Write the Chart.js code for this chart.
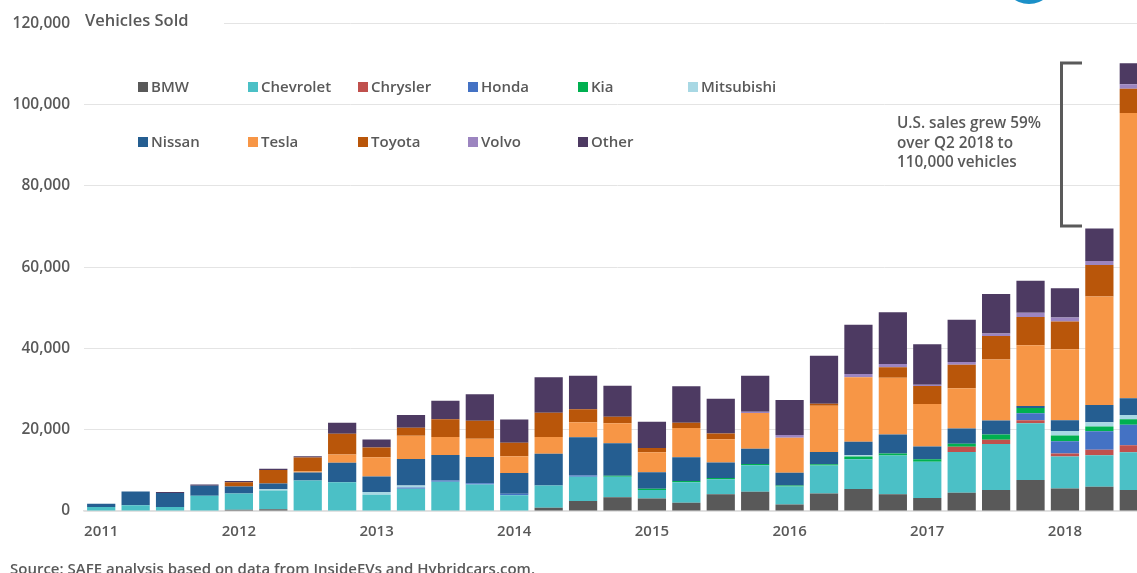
<!DOCTYPE html>
<html>
<head>
<meta charset="utf-8">
<script src="https://cdn.jsdelivr.net/npm/chart.js@4/dist/chart.umd.min.js"></script>
<style>
  html, body { margin: 0; padding: 0; background: #fff; overflow: hidden; width: 1137px; height: 573px; }
  #wrap { position: relative; width: 1160px; height: 580px; }
  #legend { position: absolute; left: 0; top: 0; font-family: "Open Sans", sans-serif; font-weight: 600; font-size: 15px; color: #595959; }
  .item { position: absolute; white-space: nowrap; line-height: 18px; transform: translateY(-9px); }
  .item span.box { display: inline-block; width: 10px; height: 10px; margin-right: 3px; vertical-align: 0px; }
</style>
</head>
<body>
<div id="wrap">
  <canvas id="evChart" width="1160" height="580"></canvas>
  <div id="legend"></div>
</div>
<script>
// quarterly U.S. plug-in sales, Q1 2011 .. Q3 2018
let quarters = [
  "Q1 2011", "Q2 2011", "Q3 2011", "Q4 2011",
  "Q1 2012", "Q2 2012", "Q3 2012", "Q4 2012",
  "Q1 2013", "Q2 2013", "Q3 2013", "Q4 2013",
  "Q1 2014", "Q2 2014", "Q3 2014", "Q4 2014",
  "Q1 2015", "Q2 2015", "Q3 2015", "Q4 2015",
  "Q1 2016", "Q2 2016", "Q3 2016", "Q4 2016",
  "Q1 2017", "Q2 2017", "Q3 2017", "Q4 2017",
  "Q1 2018", "Q2 2018", "Q3 2018"
];
let yTicks = [0, 20000, 40000, 60000, 80000, 100000, 120000];

let bmw        = [0,0,0,0, 300,400,0,0, 0,0,0,0, 0,800,2450,3400, 3100,2000,4100,4750, 1600,4300,5400,4100, 3200,4500,5150,7600, 5550,5950,5150];
let chevrolet  = [1000,1400,1000,3750, 4000,4650,7500,7100, 4000,5500,7200,6500, 3850,5500,6000,5000, 2050,5100,3700,6500, 4400,6900,7350,9550, 8900,10000,11350,14000, 7850,7750,9300];
let chrysler   = [0,0,0,0, 0,0,0,0, 0,0,0,0, 0,0,0,0, 0,0,0,0, 0,0,0,0, 0,1300,1050,750, 750,1400,1700];
let honda      = [0,0,0,0, 0,0,0,0, 0,300,300,300, 400,0,300,0, 0,0,0,0, 0,0,0,0, 0,0,0,1700, 3000,4500,5050];
let kia        = [0,0,0,0, 0,0,0,0, 0,0,0,0, 0,0,0,300, 300,300,300,300, 300,300,650,500, 650,750,1300,1300, 1400,1200,1400];
let mitsubishi = [0,0,0,0, 0,300,0,0, 650,500,0,0, 0,0,0,0, 0,0,0,0, 0,0,300,0, 0,0,0,0, 1150,1050,1050];
let nissan     = [800,3400,3400,2450, 1700,1400,2000,4800, 3850,6500,6300,6500, 5100,7800,9400,8000, 4100,5800,3850,3750, 3100,3000,3350,4650, 3100,3750,3400,500, 2600,4250,4100];
let tesla      = [0,0,0,0, 0,0,300,2000, 4700,5700,4400,4500, 4100,4100,3700,4900, 4900,7200,5700,8800, 8650,11400,15850,14000, 10500,9900,15000,14950, 17500,26700,70200];
let toyota     = [0,0,0,0, 1100,3350,3350,5100, 2400,2000,4400,4400, 3350,6000,3200,1600, 1050,1300,1400,0, 0,500,0,2600, 4400,5800,5800,6950, 6800,7700,5950];
let volvo      = [0,0,0,0, 0,0,0,0, 0,0,0,0, 0,0,0,0, 0,0,0,300, 650,0,800,800, 300,650,650,1000, 1000,1000,1100];
let other      = [0,0,300,300, 300,300,300,2700, 2000,3100,4500,6500, 5700,8700,8200,7600, 6450,9000,8600,8900, 8600,11800,12100,12700, 10000,10400,9700,7900, 7200,8000,5150];

let brands = ["BMW", "Chevrolet", "Chrysler", "Honda", "Kia", "Mitsubishi", "Nissan", "Tesla", "Toyota", "Volvo", "Other"];
let series = [bmw, chevrolet, chrysler, honda, kia, mitsubishi, nissan, tesla, toyota, volvo, other];
let colors = ["#595959", "#4bc0c6", "#c0504d", "#4472c4", "#00b050", "#a8d8e4", "#255e91", "#f79646", "#b9560a", "#9c85c0", "#4d3a62"];

let textGray = "#595959";
let fontFam = "'Open Sans', sans-serif";

// legend, two rows in fixed columns
let legendBox = document.getElementById("legend");
brands.forEach(function (name, i) {
  let row = i < 6 ? 0 : 1;
  let col = i < 6 ? i : i - 6;
  let el = document.createElement("div");
  el.className = "item";
  el.style.left = (138 + col * 110) + "px";
  el.style.top = (row === 0 ? 86 : 141) + "px";
  el.innerHTML = '<span class="box" style="background:' + colors[i] + '"></span>' + name;
  legendBox.appendChild(el);
});

let overlay = {
  id: "overlay",
  afterDraw(chart) {
    let c = chart.ctx;
    c.save();
    // title over the top gridline
    c.fillStyle = "#fff";
    c.fillRect(78, 10, 146, 22);
    c.fillStyle = textGray;
    c.font = "600 16.5px " + fontFam;
    c.textBaseline = "middle";
    c.textAlign = "left";
    c.fillText("Vehicles Sold", 85, 21);

    // annotation
    c.font = "600 15.3px " + fontFam;
    c.fillText("U.S. sales grew 59%", 897, 124);
    c.fillText("over Q2 2018 to", 897, 143.5);
    c.fillText("110,000 vehicles", 897, 163);

    // bracket
    c.strokeStyle = "#5a5a5a";
    c.lineWidth = 3;
    c.beginPath();
    c.moveTo(1082, 63);
    c.lineTo(1061.5, 63);
    c.lineTo(1061.5, 226);
    c.lineTo(1082, 226);
    c.stroke();

    // source
    c.font = "600 15px " + fontFam;
    c.textBaseline = "alphabetic";
    c.fillText("Source: SAFE analysis based on data from InsideEVs and Hybridcars.com.", 10, 574);

    // corner of the logo
    c.fillStyle = "#1b90c8";
    c.beginPath();
    c.arc(1029, -22.5, 26.5, 0, Math.PI * 2);
    c.fill();
    c.restore();
  }
};

let ctx = document.getElementById("evChart").getContext("2d");
let evChart = new Chart(ctx, {
  type: "bar",
  data: {
    labels: quarters,
    datasets: brands.map(function (name, i) {
      return {
        label: name,
        data: series[i],
        backgroundColor: colors[i],
        borderWidth: 0,
        barPercentage: 0.82,
        categoryPercentage: 1.0
      };
    })
  },
  options: {
    responsive: false,
    animation: false,
    layout: { padding: { top: 21, right: 9, left: 0, bottom: 0 } },
    plugins: {
      legend: { display: false },
      tooltip: { enabled: false }
    },
    scales: {
      x: {
        stacked: true,
        grid: { display: false, drawTicks: false },
        border: { display: true, color: "#e0e0e0", width: 1.5 },
        ticks: {
          autoSkip: false,
          maxRotation: 0,
          padding: 12,
          color: textGray,
          font: { family: fontFam, size: 15, weight: "600" },
          callback: function (v, i) {
            let q = quarters[i];
            return q.startsWith("Q1") ? q.slice(3) : "";
          }
        },
        afterFit: function (s) { s.height = 69; }
      },
      y: {
        stacked: true,
        min: yTicks[0],
        max: yTicks[yTicks.length - 1],
        afterBuildTicks: function (s) { s.ticks = yTicks.map(function (v) { return { value: v }; }); },
        grid: { color: "#e4e4e4", lineWidth: 1, drawTicks: false },
        border: { display: false },
        ticks: {
          padding: 14,
          color: textGray,
          font: { family: fontFam, size: 15.5, weight: "600" },
          callback: function (v) { return v.toLocaleString("en-US"); }
        },
        afterFit: function (s) { s.width = 84; }
      }
    }
  },
  plugins: [overlay]
});
</script>
</body>
</html>
